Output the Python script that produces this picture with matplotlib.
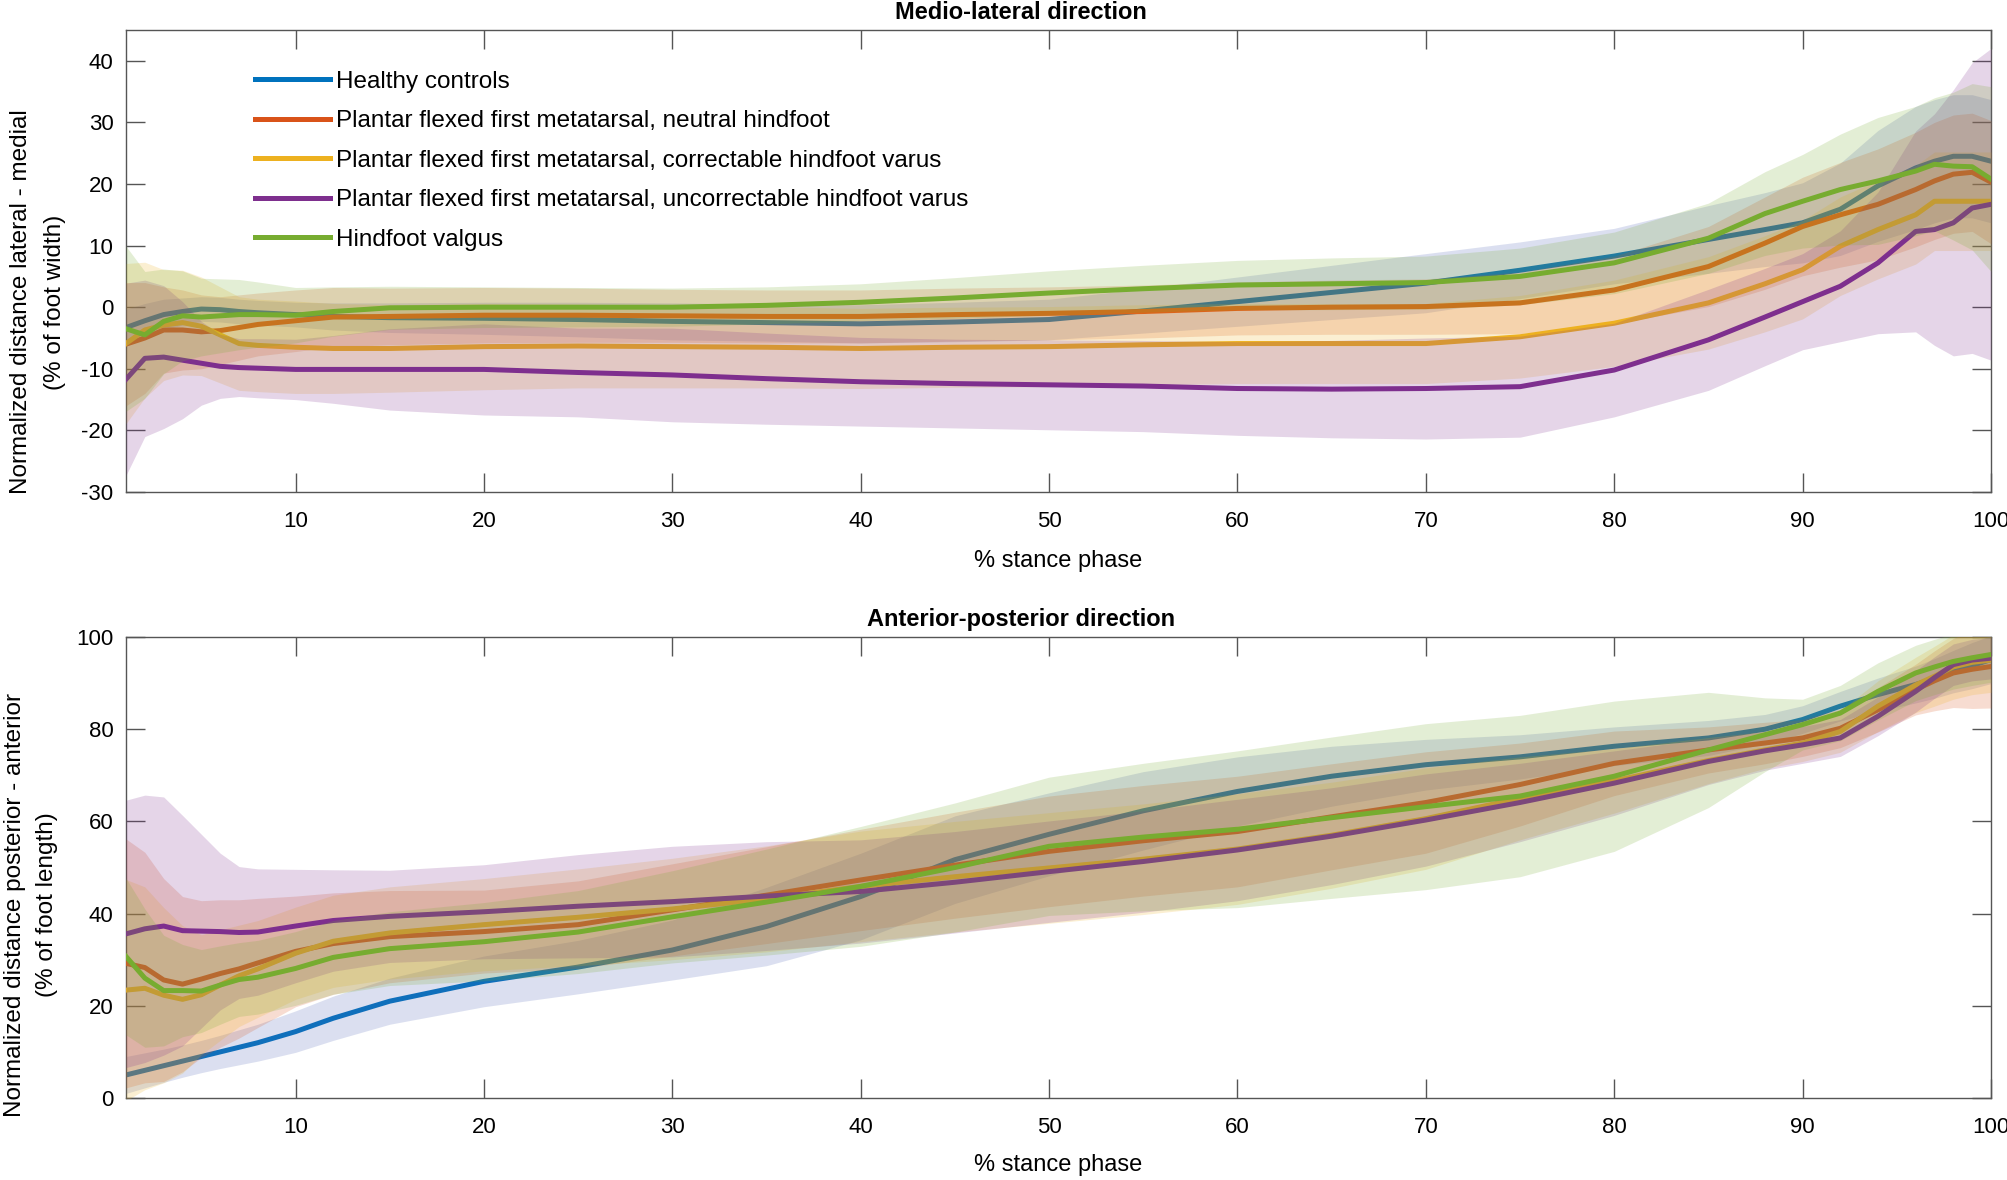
import numpy as np
import matplotlib
matplotlib.use("Agg")
import matplotlib.pyplot as plt

# % stance phase sample points
stance = [1, 2, 3, 4, 5, 6, 7, 8, 10, 12, 15, 20, 25, 30, 35, 40, 45, 50, 55, 60,
          65, 70, 75, 80, 85, 88, 90, 92, 94, 96, 97, 98, 99, 100]

groups = ['Healthy controls',
          'Plantar flexed first metatarsal, neutral hindfoot',
          'Plantar flexed first metatarsal, correctable hindfoot varus',
          'Plantar flexed first metatarsal, uncorrectable hindfoot varus',
          'Hindfoot valgus']

# medio-lateral direction (mean, sd)
ml_healthy = [-3.3, -2.2, -1.2, -0.7, -0.3, -0.4, -0.7, -0.9, -1.2, -1.5, -1.7, -1.8, -2.0, -2.3, -2.5, -2.7, -2.4,
              -2.0, -0.6, 0.9, 2.4, 3.9, 6.0, 8.3, 11.0, 12.6, 13.7, 15.9, 19.7, 22.6, 23.7, 24.5, 24.5, 23.7]
ml_neutral = [-6.0, -5.0, -3.7, -3.7, -4.0, -3.8, -3.3, -2.8, -2.2, -1.6, -1.5, -1.3, -1.3, -1.4, -1.5, -1.5, -1.2,
              -1.0, -0.7, -0.2, 0.0, 0.1, 0.7, 2.8, 6.6, 10.4, 13.1, 15.0, 16.7, 19.1, 20.5, 21.6, 21.9, 20.3]
ml_correctable = [-5.9, -3.7, -2.9, -2.5, -3.1, -4.5, -5.9, -6.2, -6.5, -6.7, -6.7, -6.4, -6.3, -6.4, -6.5, -6.7,
                  -6.5, -6.4, -6.1, -5.9, -5.9, -5.9, -4.8, -2.6, 0.7, 3.8, 6.1, 9.9, 12.6, 15.0, 17.2, 17.2, 17.2, 17.2]
ml_uncorrectable = [-11.7, -8.3, -8.1, -8.6, -9.1, -9.6, -9.8, -9.9, -10.1, -10.1, -10.1, -10.1, -10.6, -11.0, -11.6,
                    -12.1, -12.4, -12.6, -12.8, -13.2, -13.3, -13.2, -12.9, -10.2, -5.3, -1.6, 0.9, 3.4, 7.2, 12.3,
                    12.6, 13.7, 16.1, 16.7]
ml_valgus = [-3.5, -4.5, -2.3, -1.4, -1.6, -1.4, -1.2, -1.2, -1.3, -0.7, -0.1, 0.0, 0.0, 0.0, 0.3, 0.8, 1.5, 2.3,
             3.0, 3.6, 3.8, 4.0, 5.0, 7.2, 11.2, 15.2, 17.2, 19.1, 20.5, 22.1, 23.2, 22.9, 22.8, 20.8]

ml_healthy_sd = [3.0, 2.8, 2.5, 2.2, 2.0, 2.0, 2.0, 2.0, 2.0, 2.2, 2.4, 2.6, 2.8, 3.0, 3.0, 3.1, 3.2, 3.3, 3.6, 4.0,
                 4.4, 4.8, 4.6, 4.5, 5.5, 6.0, 6.5, 7.5, 9.0, 10.0, 10.0, 10.0, 10.0, 10.0]
ml_neutral_sd = [10, 9, 7, 6.5, 6, 5.5, 5.3, 5.1, 5, 4.8, 4.6, 4.5, 4.4, 4.3, 4.3, 4.3, 4.3, 4.3, 4.3, 4.3, 4.4, 4.5,
                 5.0, 5.5, 6.5, 7.5, 8, 8.5, 9, 9.3, 9.5, 9.6, 9.6, 10]
ml_correctable_sd = [13, 11, 9, 8.5, 8, 7.8, 7.6, 7.5, 7.5, 7.3, 7.1, 7, 6.8, 6.7, 6.6, 6.5, 6.5, 6.5, 6.5, 6.5, 6.5,
                     6.5, 6.7, 7, 7.5, 7.8, 8, 8, 8, 8, 8, 8, 8, 8]
ml_uncorrectable_sd = [15.6, 12.7, 11.6, 9.5, 6.8, 5.2, 4.7, 4.8, 4.9, 5.5, 6.6, 7.4, 7.2, 7.6, 7.4, 7.2, 7.2, 7.3,
                       7.4, 7.6, 7.9, 8.2, 8.2, 7.6, 8.2, 7.9, 7.8, 9, 11.5, 16.3, 18.8, 21.6, 23.6, 25.3]
ml_valgus_sd = [13.4, 10.3, 8.5, 7.3, 6.3, 6, 5.7, 5.3, 4.5, 4.0, 3.5, 3.3, 3.2, 3.1, 3.0, 3.0, 3.3, 3.6, 3.8, 4.0,
                4.2, 4.3, 4.6, 5.0, 5.7, 6.8, 7.6, 9, 10.3, 10.5, 10.8, 12, 13.5, 15]

# anterior-posterior direction (mean, sd)
ap_healthy = [5.0, 6.0, 7.0, 8.0, 9.0, 10.0, 11.0, 12.0, 14.4, 17.3, 21.0, 25.3, 28.4, 32.1, 37.2, 43.7, 51.7, 57.2,
              62.3, 66.5, 69.8, 72.3, 74.0, 76.3, 78.1, 80.0, 82.1, 85.0, 87.5, 89.7, 91.0, 92.5, 93.8, 95.1]
ap_neutral = [29.2, 28.3, 25.6, 24.7, 25.8, 27.0, 28.0, 29.3, 31.8, 33.5, 35.0, 36.1, 37.6, 40.8, 44.0, 47.3, 50.5,
              53.5, 55.8, 57.8, 61.0, 64.1, 68.0, 72.6, 75.5, 77.0, 78.1, 80.2, 84.2, 88.6, 90.5, 92.2, 93.0, 93.6]
ap_correctable = [23.4, 23.8, 22.3, 21.4, 22.4, 24.5, 26.5, 28.0, 31.4, 34.0, 35.8, 37.6, 39.2, 41.0, 43.2, 45.9,
                  48.0, 49.9, 51.8, 54.0, 57.0, 60.6, 65.0, 68.8, 73.2, 75.5, 77.0, 79.5, 85.0, 89.6, 91.5, 93.5,
                  94.5, 95.0]
ap_uncorrectable = [35.6, 36.7, 37.3, 36.3, 36.2, 36.1, 35.9, 36.0, 37.3, 38.5, 39.4, 40.4, 41.6, 42.6, 43.8, 44.8,
                    46.8, 49.1, 51.3, 53.8, 56.8, 60.3, 64.1, 68.3, 73.0, 75.3, 76.6, 78.1, 82.8, 88.2, 91.2, 94.0,
                    95.0, 95.4]
ap_valgus = [30.7, 26.0, 23.3, 23.3, 23.2, 24.5, 25.7, 26.2, 28.1, 30.5, 32.4, 33.9, 36.0, 39.3, 42.5, 45.9, 50.0,
             54.6, 56.6, 58.3, 60.8, 63.2, 65.5, 69.8, 75.5, 78.8, 81.0, 83.5, 88.2, 92.2, 93.5, 94.7, 95.5, 96.2]

ap_healthy_sd = [4, 3.8, 3.6, 3.5, 3.5, 3.6, 3.8, 4, 4.5, 4.8, 5, 5.5, 5.8, 6.5, 8.5, 9.4, 9.5, 9, 8.5, 7.5, 6.5,
                 5.5, 4.8, 4.2, 3.8, 3.2, 3, 3.2, 3.6, 4, 4.3, 4.6, 5, 5.2]
ap_neutral_sd = [27, 25, 22, 19, 17, 16, 15, 14, 12, 11, 10, 9, 9.5, 10, 10.5, 11, 11.5, 12, 12, 12, 11.5, 11, 9, 7,
                 5, 4.5, 4, 4.2, 4.8, 5.5, 6.5, 7.5, 8.5, 9]
ap_correctable_sd = [24, 22, 19, 16, 13, 12, 11, 10.5, 10, 10, 10, 10, 10.5, 11, 11.5, 12, 12, 12, 12, 12, 11.5, 11,
                     9, 7, 5, 4, 4, 4.5, 5.5, 6, 6.5, 7, 7, 7]
ap_uncorrectable_sd = [29, 29, 28, 25, 21, 17, 14.3, 13.7, 12.3, 11, 10, 10.2, 11.2, 12, 11.8, 11.2, 11, 11, 11, 11,
                       10.5, 10, 8.5, 7, 5, 4.2, 4, 4, 4.2, 4.5, 4.5, 4.5, 4.5, 4.5]
ap_valgus_sd = [17, 15, 12, 10, 9, 8.5, 8, 8, 8, 8, 8, 8.5, 9, 10, 11.5, 13, 14, 15, 16, 17, 17.5, 18, 17.5, 16.3,
                12.5, 8, 5.5, 6, 6.2, 6, 6, 6, 6, 6]

line_colors = ['#0072BD', '#D95319', '#EDB120', '#7E2F8E', '#77AC30']
fill_colors = ['#4D63B5', '#D95319', '#EDB120', '#7E2F8E', '#77AC30']

plt.rcParams['font.family'] = ['Liberation Sans', 'DejaVu Sans']
plt.rcParams['axes.edgecolor'] = '#555555'
plt.rcParams['axes.linewidth'] = 1.0
plt.rcParams['axes.unicode_minus'] = False


def draw_panel(ax, means, sds):
    x = np.array(stance)
    for i, (m, s) in enumerate(zip(means, sds)):
        m = np.array(m)
        s = np.array(s)
        ax.plot(x, m, color=line_colors[i], lw=3.6, label=groups[i], zorder=2 + 2 * i,
                solid_joinstyle='round')
        ax.fill_between(x, m - s, m + s, color=fill_colors[i], alpha=0.2, lw=0, zorder=3 + 2 * i)
    ax.set_xlim(1, 100)
    ax.set_xticks(range(10, 101, 10))
    ax.tick_params(direction='in', length=13.5, width=1, color='#555555', top=True, right=True,
                   labelsize=16)
    ax.tick_params(axis='x', pad=14)
    ax.tick_params(axis='y', pad=9)


fig = plt.figure(figsize=(20.08, 11.8), dpi=100)
ax1 = fig.add_axes([126 / 2008, 1 - 492 / 1180, 1865 / 2008, 462 / 1180])
ax2 = fig.add_axes([126 / 2008, 1 - 1098 / 1180, 1865 / 2008, 461 / 1180])

draw_panel(ax1, [ml_healthy, ml_neutral, ml_correctable, ml_uncorrectable, ml_valgus],
           [ml_healthy_sd, ml_neutral_sd, ml_correctable_sd, ml_uncorrectable_sd, ml_valgus_sd])
ax1.set_ylim(-30, 45)
ax1.set_yticks(range(-30, 41, 10))
ax1.set_title('Medio-lateral direction', fontsize=17, fontweight='bold', pad=8, x=0.48)
ax1.set_xlabel('% stance phase', fontsize=17, labelpad=13)

draw_panel(ax2, [ap_healthy, ap_neutral, ap_correctable, ap_uncorrectable, ap_valgus],
           [ap_healthy_sd, ap_neutral_sd, ap_correctable_sd, ap_uncorrectable_sd, ap_valgus_sd])
ax2.set_ylim(0, 100)
ax2.set_yticks(range(0, 101, 20))
ax2.set_title('Anterior-posterior direction', fontsize=17, fontweight='bold', pad=8, x=0.48)
ax2.set_xlabel('% stance phase', fontsize=17, labelpad=11)

fig.text(38 / 2008, 1 - 302 / 1180, 'Normalized distance lateral - medial\n(% of foot width)',
         rotation=90, ha='center', va='center', multialignment='center', fontsize=17.5,
         linespacing=1.75)
fig.text(31 / 2008, 1 - 905 / 1180, 'Normalized distance posterior - anterior\n(% of foot length)',
         rotation=90, ha='center', va='center', multialignment='center', fontsize=17.5,
         linespacing=1.55)

leg = ax1.legend(loc='upper left', bbox_to_anchor=(0.069, 0.912), frameon=False, fontsize=17.5,
                 handlelength=3.1, handletextpad=0.25, labelspacing=0.72, borderpad=0, borderaxespad=0)
for h in leg.get_lines():
    h.set_linewidth(3.6)

fig.savefig('out.png', dpi=100)
